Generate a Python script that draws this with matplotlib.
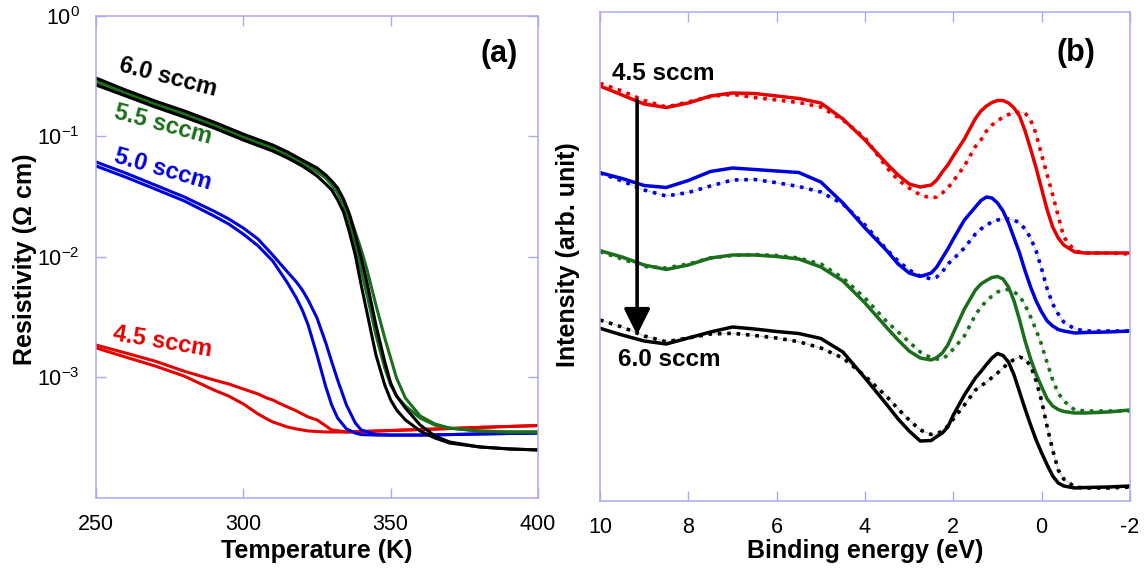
import matplotlib
matplotlib.use('Agg')
import matplotlib.pyplot as plt
import numpy as np

plt.rcParams['font.family'] = ['Liberation Sans', 'DejaVu Sans']
plt.rcParams['mathtext.fontset'] = 'custom'
plt.rcParams['mathtext.rm'] = 'Liberation Sans'
plt.rcParams['mathtext.it'] = 'Liberation Sans:italic'
plt.rcParams['mathtext.bf'] = 'Liberation Sans:bold'

# ---------------- Panel (a): resistivity vs temperature ----------------
T_bg = [250, 260, 270, 280, 290, 300, 310, 315, 320, 325, 328, 330, 332, 334, 336,
        338, 340, 342, 345, 348, 350, 352, 355, 360, 365, 370, 380, 390, 400]
rho_60_a = [0.304, 0.242, 0.196, 0.162, 0.131, 0.104, 0.0845, 0.0740, 0.0634, 0.0545,
            0.0476, 0.0425, 0.0372, 0.0301, 0.0226, 0.0151, 0.00975, 0.00605, 0.00271,
            0.00134, 8.95e-4, 6.98e-4, 5.55e-4, 4.01e-4, 3.25e-4, 2.90e-4, 2.64e-4,
            2.54e-4, 2.49e-4]
rho_60_b = [0.266, 0.216, 0.175, 0.144, 0.117, 0.0929, 0.0753, 0.0659, 0.0566, 0.0468,
            0.0401, 0.0358, 0.0296, 0.0235, 0.0160, 0.0103, 0.00582, 0.00341, 0.00153,
            8.61e-4, 6.47e-4, 5.35e-4, 4.42e-4, 3.58e-4, 3.13e-4, 2.84e-4, 2.64e-4,
            2.54e-4, 2.49e-4]
rho_55_a = [0.292, 0.233, 0.189, 0.156, 0.126, 0.100, 0.0813, 0.0711, 0.0611, 0.0514,
            0.0450, 0.0394, 0.0338, 0.0269, 0.0194, 0.0125, 0.00776, 0.00481, 0.00224,
            0.00119, 8.61e-4, 6.98e-4, 5.77e-4, 4.58e-4, 4.01e-4, 3.78e-4, 3.58e-4,
            3.51e-4, 3.51e-4]
rho_55_b = [0.276, 0.224, 0.182, 0.150, 0.122, 0.0966, 0.0783, 0.0685, 0.0587, 0.0505,
            0.0450, 0.0401, 0.0344, 0.0284, 0.0222, 0.0160, 0.0114, 0.00776, 0.00397,
            0.00211, 0.00144, 9.84e-4, 6.71e-4, 4.77e-4, 4.09e-4, 3.78e-4, 3.58e-4,
            3.51e-4, 3.51e-4]

T_blue = [250, 260, 270, 280, 290, 295, 300, 305, 310, 315, 318, 320, 322, 325,
          328, 330, 332, 335, 338, 340, 345, 350, 360, 370, 380, 390, 400]
rho_50_a = [0.0566, 0.0458, 0.0365, 0.0290, 0.0218, 0.0187, 0.0154, 0.0123, 0.00920,
            0.00605, 0.00454, 0.00361, 0.00271, 0.00153, 8.29e-4, 5.87e-4, 4.58e-4,
            3.72e-4, 3.44e-4, 3.34e-4, 3.31e-4, 3.31e-4, 3.31e-4, 3.34e-4, 3.38e-4,
            3.41e-4, 3.44e-4]
rho_50_b = [0.0611, 0.0495, 0.0394, 0.0313, 0.0239, 0.0206, 0.0173, 0.0140, 0.0103,
            0.00746, 0.00617, 0.00530, 0.00437, 0.00310, 0.00192, 0.00134, 9.48e-4,
            5.87e-4, 4.17e-4, 3.65e-4, 3.34e-4, 3.31e-4, 3.31e-4, 3.34e-4, 3.38e-4,
            3.41e-4, 3.44e-4]

T_red = [250, 260, 270, 280, 290, 295, 300, 305, 308, 310, 312, 315, 318, 320,
         322, 325, 328, 330, 335, 340, 350, 360, 370, 380, 390, 400]
rho_45_a = [1.85e-3, 1.59e-3, 1.36e-3, 1.12e-3, 9.48e-4, 8.79e-4, 7.98e-4, 7.26e-4,
            6.71e-4, 6.47e-4, 6.11e-4, 5.66e-4, 5.25e-4, 4.95e-4, 4.68e-4, 4.42e-4,
            3.94e-4, 3.65e-4, 3.51e-4, 3.54e-4, 3.61e-4, 3.68e-4, 3.75e-4, 3.83e-4,
            3.90e-4, 3.97e-4]
rho_45_b = [1.75e-3, 1.47e-3, 1.24e-3, 1.02e-3, 7.83e-4, 6.98e-4, 6.00e-4, 4.95e-4,
            4.50e-4, 4.25e-4, 4.09e-4, 3.86e-4, 3.72e-4, 3.65e-4, 3.58e-4, 3.54e-4,
            3.51e-4, 3.51e-4, 3.51e-4, 3.54e-4, 3.61e-4, 3.68e-4, 3.75e-4, 3.83e-4,
            3.90e-4, 3.97e-4]

a_xticks = [250, 300, 350, 400]
a_yticks = [1e-3, 1e-2, 1e-1, 1e0]
a_yticklabels = [r'$10^{-3}$', r'$10^{-2}$', r'$10^{-1}$', r'$10^{0}$']

# ---------------- Panel (b): photoemission spectra (arb. units) ----------------
E = [10, 9.5, 9, 8.5, 8, 7.5, 7, 6.5, 6, 5.5, 5, 4.5, 4, 3.5, 3.25, 3, 2.75, 2.5,
     2.375, 2.25, 2.125, 2, 1.75, 1.5, 1.375, 1.25, 1.125, 1, 0.875, 0.75, 0.625,
     0.5, 0.375, 0.25, 0.125, 0, -0.125, -0.25, -0.375, -0.5, -0.75, -1, -1.5, -2]
I_45_solid = [415, 406, 397, 393.5, 398, 405, 408, 407.5, 405, 402.5, 398, 382, 361,
              337, 326, 317, 314, 316, 321, 329, 336, 345, 362, 382.5, 390, 395, 398.5,
              400.5, 400.5, 398, 393, 385, 370, 352, 333, 312, 291, 274, 263, 256, 249,
              248, 248, 248]
I_45_dot = [417.7, 410, 400.5, 394, 399, 404.5, 406.7, 403.5, 401, 398.5, 394, 381,
            363, 333, 321, 313, 306, 303, 304, 308, 313, 320, 335, 354.5, 361, 370, 376,
            380, 384, 386.5, 388, 389, 388, 381, 367, 346, 326, 306, 285, 264, 250, 248,
            248, 247]
I_50_solid = [328.3, 322.5, 315.5, 313.5, 320.5, 329.5, 333, 331.5, 330, 328.5, 319,
              298, 273, 250, 237, 228, 224.5, 228, 234, 243, 252, 262, 281, 294, 300.5,
              304, 303, 298, 290, 278, 263, 248, 230, 214, 200, 189, 180, 175, 171.5,
              170, 168, 168.5, 169, 170]
I_50_dot = [328, 320, 311, 305, 308.5, 315, 321, 321.5, 318.3, 314.5, 309, 297, 276,
            251, 240, 231, 225, 222, 224, 229, 237, 242, 253, 267, 272, 276, 279, 281,
            282, 282, 281, 278, 272, 263, 250, 232, 212, 197, 187, 179, 172, 170, 170,
            170]
I_55_solid = [250.3, 244, 236, 231.5, 236, 243, 246, 246, 244.5, 242, 234, 220, 198,
              173, 161, 150, 143, 141, 143.5, 148, 156, 168, 192, 211, 217, 220.5, 223.5,
              224.5, 222, 214, 200, 181, 160, 142, 127, 114, 102, 95, 91.5, 89.5, 88, 88,
              89, 91]
I_55_dot = [249.3, 242, 234.5, 233, 237, 243, 245.5, 246.5, 245.5, 243, 237, 223, 203,
            179, 169, 159, 149, 143, 142, 142, 146, 152, 165, 186, 194, 200, 205, 209,
            211, 211.5, 209, 205, 196, 184, 171, 156, 138, 121, 108, 100, 91, 90, 90, 90]
I_60_solid = [172.7, 166, 160, 157, 163, 169, 174, 172, 169.5, 167.5, 162.5, 149, 123,
              96, 82, 70, 60, 60.5, 64.5, 68, 74, 86, 106, 123, 129.5, 136.5, 143, 147.5,
              145.5, 139, 126, 109, 92, 76, 61, 48, 36, 25, 18, 15, 13, 13.5, 14, 15]
I_60_dot = [181, 174, 165, 159.3, 163, 167, 167.7, 165.5, 163, 159.3, 153, 143, 125,
            104, 92, 81, 71, 66.5, 67, 70, 75, 82, 96, 111, 115, 119, 123.5, 128, 133,
            138, 141.5, 144, 142, 135, 120, 100, 74, 51, 31, 22, 14, 13, 13, 14]
b_xticks = [10, 8, 6, 4, 2, 0, -2]
b_xticklabels = ['10', '8', '6', '4', '2', '0', '-2']

RED = '#e60000'
BLUE = '#0000dd'
GREEN = '#1b6e1b'
BLACK = '#000000'
SPINE = '#a9a9f2'

fig = plt.figure(figsize=(11.46, 5.71), dpi=100)
axa = fig.add_axes([96 / 1146, (571 - 497.7) / 571, 442 / 1146, 482 / 571])
axb = fig.add_axes([600 / 1146, (571 - 501) / 571, 530 / 1146, 489 / 571])

for ax in (axa, axb):
    for s in ax.spines.values():
        s.set_color(SPINE)
        s.set_linewidth(1.1)

# ---- panel a
lw_a = 2.2
axa.plot(T_red, rho_45_a, color=RED, lw=lw_a)
axa.plot(T_red, rho_45_b, color=RED, lw=lw_a)
axa.plot(T_blue, rho_50_a, color=BLUE, lw=lw_a)
axa.plot(T_blue, rho_50_b, color=BLUE, lw=lw_a)
axa.plot(T_bg, rho_55_a, color=GREEN, lw=lw_a)
axa.plot(T_bg, rho_55_b, color=GREEN, lw=lw_a)
axa.plot(T_bg, rho_60_a, color=BLACK, lw=lw_a)
axa.plot(T_bg, rho_60_b, color=BLACK, lw=lw_a)
axa.set_yscale('log')
axa.set_xlim(250, 400)
axa.set_ylim(1e-4, 1)
axa.set_xticks(a_xticks)
axa.set_xticklabels([str(t) for t in a_xticks])
axa.set_yticks(a_yticks)
axa.set_yticklabels(a_yticklabels)
axa.minorticks_off()
axa.tick_params(direction='in', length=7, width=1, color=SPINE, top=True, right=True,
                labelsize=15.5, pad=11.5, labelcolor='black')
axa.set_xlabel('Temperature (K)', fontsize=18, fontweight='bold')
axa.xaxis.set_label_coords(0.5, -0.0865)
axa.set_ylabel('Resistivity (\u03a9 cm)', fontsize=18, fontweight='bold')
axa.yaxis.set_label_coords(-0.133, 0.495)
axa.text(0.912, 0.9205, '(a)', transform=axa.transAxes, fontsize=22, fontweight='bold',
         ha='center', va='center')
lab_kw = dict(fontsize=17, fontweight='bold', ha='center', va='center', rotation_mode='anchor')
axa.text(274.5, 0.31, '6.0 sccm', color=BLACK, rotation=-14.5, **lab_kw)
axa.text(272.8, 0.124, '5.5 sccm', color=GREEN, rotation=-15, **lab_kw)
axa.text(272.8, 0.0525, '5.0 sccm', color=BLUE, rotation=-16, **lab_kw)
axa.text(272.4, 1.96e-3, '4.5 sccm', color=RED, rotation=-9.5, **lab_kw)

# ---- panel b
lw_b = 2.5
dot_style = (0, (1.0, 1.6))
for solid, dot, c in ((I_45_solid, I_45_dot, RED), (I_50_solid, I_50_dot, BLUE),
                      (I_55_solid, I_55_dot, GREEN), (I_60_solid, I_60_dot, BLACK)):
    axb.plot(E, dot, color=c, lw=0.7, alpha=0.25)
    axb.plot(E, dot, color=c, lw=2.6, linestyle=dot_style)
    axb.plot(E, solid, color=c, lw=lw_b, solid_joinstyle='round')
axb.set_xlim(10, -2)
axb.set_ylim(0, 489)
axb.set_xticks(b_xticks)
axb.set_xticklabels(b_xticklabels)
axb.set_yticks([])
axb.tick_params(axis='x', direction='in', length=7, width=1, color=SPINE, top=True,
                labelsize=15.5, pad=11.5)
axb.set_xlabel('Binding energy (eV)', fontsize=18, fontweight='bold')
axb.xaxis.set_label_coords(0.5, -0.0785)
axb.set_ylabel('Intensity (arb. unit)', fontsize=18, fontweight='bold')
axb.yaxis.set_label_coords(-0.038, 0.504)
axb.text(0.898, 0.916, '(b)', transform=axb.transAxes, fontsize=22, fontweight='bold',
         ha='center', va='center')
axb.annotate('', xy=(9.16, 166), xytext=(9.16, 401),
             arrowprops=dict(arrowstyle='-|>,head_length=0.4,head_width=0.2',
                             color='black', lw=2.6, mutation_scale=40,
                             shrinkA=0, shrinkB=0))
axb.text(9.73, 427, '4.5 sccm', fontsize=17.5, fontweight='bold', ha='left', va='center')
axb.text(9.59, 142, '6.0 sccm', fontsize=17.5, fontweight='bold', ha='left', va='center')

fig.savefig('out.png', dpi=100)
